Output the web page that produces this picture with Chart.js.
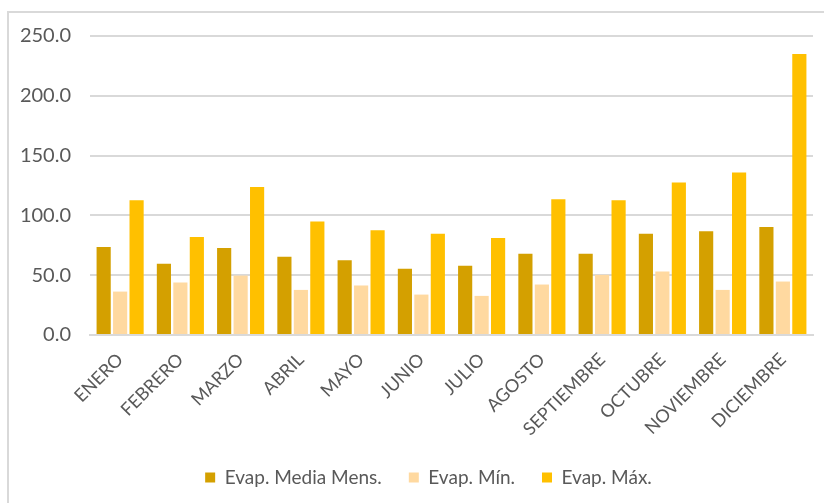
<!DOCTYPE html>
<html>
<head>
<meta charset="utf-8">
<script src="https://cdn.jsdelivr.net/npm/chart.js@4"></script>
<style>
  html, body { margin: 0; padding: 0; background: #fff; overflow: hidden; }
  #wrap { position: relative; width: 824px; height: 503px; }
  #frame {
    position: absolute; left: 7px; top: 11px; width: 900px; height: 600px;
    border-left: 2px solid #d9d9d9; border-top: 2px solid #d9d9d9;
  }
  canvas { position: absolute; left: 0; top: 0; }
</style>
</head>
<body>
<div id="wrap">
  <div id="frame"></div>
  <canvas id="evapChart" width="824" height="503"></canvas>
</div>
<script>
// meses y valores de evaporación (mm)
const MESES = ['ENERO', 'FEBRERO', 'MARZO', 'ABRIL', 'MAYO', 'JUNIO', 'JULIO',
    'AGOSTO', 'SEPTIEMBRE', 'OCTUBRE', 'NOVIEMBRE', 'DICIEMBRE'];
const EVAP_MEDIA = [73.5, 59.6, 72.7, 65.4, 62.6, 55.4, 57.9, 67.9, 67.9, 84.7, 86.7, 90.3];
const EVAP_MIN = [36.3, 43.9, 49.7, 37.7, 41.4, 33.8, 32.7, 42.2, 50.3, 53.1, 37.7, 44.7];
const EVAP_MAX = [112.7, 81.9, 123.8, 95.0, 87.5, 84.7, 81.0, 113.5, 112.7, 127.5, 135.9, 235.0];

const COLORS = {
    media: '#d4a000',
    min: '#ffd9a0',
    max: '#ffc000'
};
const TEXT_COLOR = '#595959';
const GRID_COLOR = '#d9d9d9';
const FONT = 'Lato';

const ctx = document.getElementById('evapChart').getContext('2d');

// mueve la leyenda un poco a la derecha, como en el original
const legendShift = {
    id: 'legendShift',
    afterLayout(chart) {
        if (!chart.legend) return;
        chart.legend.left += 22;
        chart.legend.right += 22;
    }
};

const chart = new Chart(ctx, {
    type: 'bar',
    data: {
        labels: MESES,
        datasets: [
            { label: 'Evap. Media Mens.', data: EVAP_MEDIA, backgroundColor: COLORS.media },
            { label: 'Evap. Mín.', data: EVAP_MIN, backgroundColor: COLORS.min },
            { label: 'Evap. Máx.', data: EVAP_MAX, backgroundColor: COLORS.max }
        ]
    },
    options: {
        responsive: false,
        animation: false,
        datasets: {
            bar: { categoryPercentage: 0.82, barPercentage: 0.86 }
        },
        layout: { padding: { top: 36, right: 11, left: 0, bottom: 6 } },
        scales: {
            x: {
                grid: { display: false },
                border: { color: GRID_COLOR, width: 2 },
                ticks: {
                    color: TEXT_COLOR,
                    font: { family: FONT, size: 18 },
                    maxRotation: 45, minRotation: 45,
                    padding: 6
                },
                afterFit: (scale) => { scale.height = 106; }
            },
            y: {
                min: 0, max: 250,
                ticks: {
                    stepSize: 50,
                    color: TEXT_COLOR,
                    font: { family: FONT, size: 20 },
                    padding: 19,
                    callback: (v) => v.toFixed(1)
                },
                grid: { color: GRID_COLOR, lineWidth: 2, drawTicks: false },
                border: { display: false },
                afterFit: (scale) => { scale.width = 90; }
            }
        },
        plugins: {
            legend: {
                position: 'bottom',
                labels: {
                    color: TEXT_COLOR,
                    font: { family: FONT, size: 19 },
                    boxWidth: 10, boxHeight: 10,
                    padding: 27
                }
            },
            tooltip: { enabled: false }
        }
    },
    plugins: [legendShift]
});
</script>
</body>
</html>
